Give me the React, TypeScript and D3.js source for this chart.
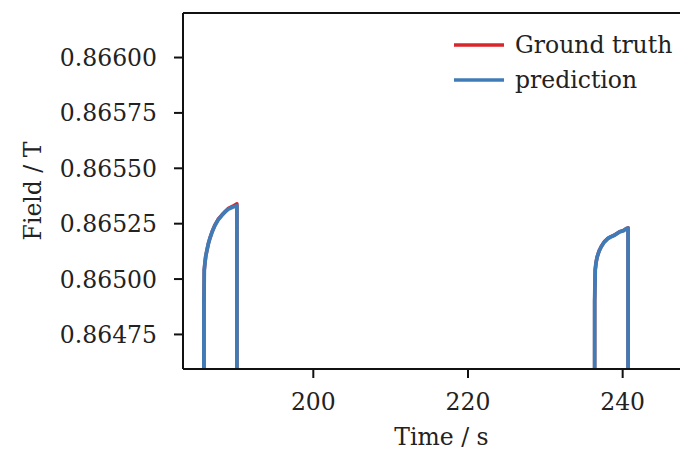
import React from "react";
import * as d3 from "d3";

// Pulse 1 and pulse 2 (time in s, field in T); values below the axis are clipped
const predTime1 = [184.0, 185.85, 185.86, 185.9, 186.0, 186.1, 186.25, 186.43, 186.64, 186.95, 187.29, 187.7, 188.19, 188.6, 188.97, 189.6, 190.12, 190.12, 192.0];
const predField1 = [0.8640, 0.8640, 0.86490, 0.865041, 0.865077, 0.865105, 0.865131, 0.86516, 0.865185, 0.865216, 0.865243, 0.865268, 0.865288, 0.865303, 0.865315, 0.865325, 0.865331, 0.8640, 0.8640];
const truthField1 = [0.8640, 0.8640, 0.86490, 0.865041, 0.865077, 0.865105, 0.865131, 0.86516, 0.865186, 0.865217, 0.865245, 0.86527, 0.86529, 0.865305, 0.865318, 0.865329, 0.86534, 0.8640, 0.8640];

const predTime2 = [234.0, 236.37, 236.38, 236.45, 236.56, 236.71, 236.95, 237.23, 237.62, 238.09, 238.5, 238.96, 239.61, 240.1, 240.5, 240.7, 240.7, 243.0];
const predField2 = [0.8640, 0.8640, 0.86490, 0.865041, 0.865075, 0.8651, 0.865126, 0.865146, 0.865167, 0.865183, 0.865191, 0.865198, 0.865213, 0.865218, 0.865228, 0.86523, 0.8640, 0.8640];
const truthField2 = [0.8640, 0.8640, 0.86490, 0.865041, 0.865075, 0.865101, 0.865127, 0.865147, 0.865168, 0.865184, 0.865192, 0.865199, 0.865214, 0.865219, 0.865229, 0.865231, 0.8640, 0.8640];

const xTicks = [200, 220, 240];
const yTicks = [0.86475, 0.865, 0.86525, 0.8655, 0.86575, 0.866];
const seriesNames = ["Ground truth", "prediction"];
const seriesColors = ["#d8262a", "#3f7bb6"];

export default function App() {
  const W = 680, H = 451;
  const left = 183, right = 700, top = 13, bottom = 369;
  const x = d3.scaleLinear().domain([183.15, 250.0]).range([left, right]);
  const y = d3.scaleLinear().domain([0.864594, 0.866201]).range([bottom, top]);
  const line = d3.line<[number, number]>().x(d => x(d[0])).y(d => y(d[1]));
  const zip = (a: number[], b: number[]) => a.map((t, i) => [t, b[i]] as [number, number]);
  const font = "'DejaVu Serif', serif";
  const fs = 23.5;
  return (
    <svg width={W} height={H} style={{ position: "absolute", left: 0, top: 0, background: "#fff" }}>
      <defs>
        <clipPath id="plot">
          <rect x={left} y={top} width={right - left} height={bottom - top} />
        </clipPath>
      </defs>
      <g clipPath="url(#plot)" fill="none" strokeLinejoin="round">
        <path d={line(zip(predTime1, truthField1)) || ""} stroke={seriesColors[0]} strokeWidth={3.5} />
        <path d={line(zip(predTime2, truthField2)) || ""} stroke={seriesColors[0]} strokeWidth={3.5} />
        <path d={line(zip(predTime1, predField1)) || ""} stroke={seriesColors[1]} strokeWidth={3.8} />
        <path d={line(zip(predTime2, predField2)) || ""} stroke={seriesColors[1]} strokeWidth={3.8} />
      </g>
      {/* spines */}
      <line x1={left} x2={left} y1={top} y2={bottom} stroke="#111" strokeWidth={2} />
      <line x1={left} x2={right} y1={bottom} y2={bottom} stroke="#111" strokeWidth={2} />
      <line x1={left} x2={right} y1={top} y2={top} stroke="#111" strokeWidth={2} />
      {/* y ticks */}
      {yTicks.map(v => (
        <g key={v}>
          <line x1={left - 9} x2={left} y1={y(v)} y2={y(v)} stroke="#111" strokeWidth={2} />
          <text x={left - 26} y={y(v)} dy="0.36em" textAnchor="end" fontFamily={font} fontSize={fs} fill="#222">
            {v.toFixed(5)}
          </text>
        </g>
      ))}
      {/* x ticks */}
      {xTicks.map(v => (
        <g key={v}>
          <line x1={x(v)} x2={x(v)} y1={bottom} y2={bottom + 9} stroke="#111" strokeWidth={2} />
          <text x={x(v)} y={410} textAnchor="middle" fontFamily={font} fontSize={fs} fill="#222">
            {v}
          </text>
        </g>
      ))}
      <text x={(left + right) / 2} y={445} textAnchor="middle" fontFamily={font} fontSize={fs} fill="#222">
        Time / s
      </text>
      <text transform={`translate(41, 191) rotate(-90)`} textAnchor="middle" fontFamily={font} fontSize={fs} fill="#222">
        Field / T
      </text>
      {/* legend */}
      {seriesNames.map((n, i) => (
        <g key={n}>
          <line x1={454} x2={504} y1={45 + i * 35} y2={45 + i * 35} stroke={seriesColors[i]} strokeWidth={3.5} />
          <text x={515} y={45 + i * 35} dy="0.36em" fontFamily={font} fontSize={fs} fill="#222">
            {n}
          </text>
        </g>
      ))}
    </svg>
  );
}
